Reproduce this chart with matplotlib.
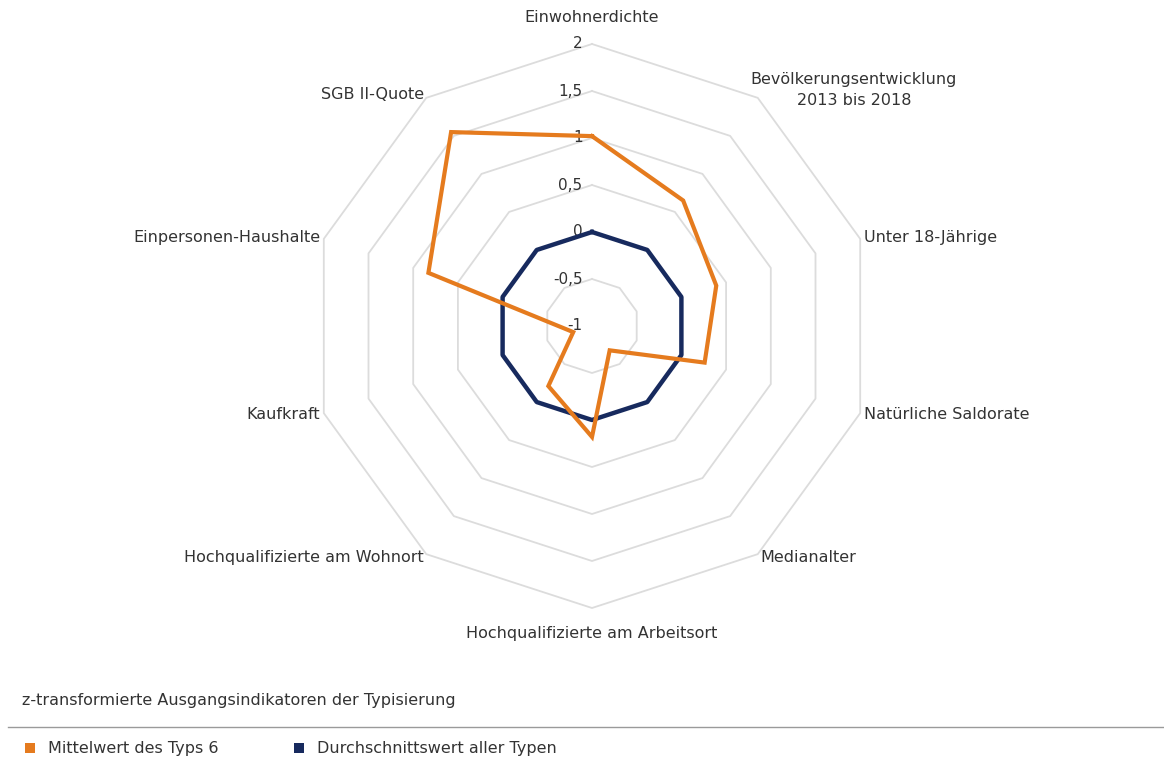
import numpy as np
import matplotlib
matplotlib.use("Agg")
import matplotlib.pyplot as plt

# Achsen im Uhrzeigersinn, beginnend oben
categories = ["Einwohnerdichte", "Bevölkerungsentwicklung\n2013 bis 2018", "Unter 18-Jährige",
              "Natürliche Saldorate", "Medianalter", "Hochqualifizierte am Arbeitsort",
              "Hochqualifizierte am Wohnort", "Kaufkraft", "Einpersonen-Haushalte", "SGB II-Quote"]
typ6 = [1.02, 0.65, 0.39, 0.26, -0.68, 0.18, -0.21, -0.79, 0.83, 1.55]
alle = [0, 0, 0, 0, 0, 0, 0, 0, 0, 0]
rings = [-0.5, 0, 0.5, 1, 1.5, 2]
ring_labels = ["-0,5", "0", "0,5", "1", "1,5", "2"]
r_min = -1

orange = "#E57B1E"
navy = "#172A5E"
grid_col = "#DCDCDC"
txt_col = "#333333"
fs = 11.5

plt.rcParams["font.family"] = ["DejaVu Sans"]

W, H = 1164, 760
cx, cy, scale = 592, 326, 94  # Mittelpunkt und Pixel pro Einheit

fig = plt.figure(figsize=(W / 100, H / 100), dpi=100)
ax = fig.add_axes([0, 0, 1, 1])
ax.set_xlim(-cx / scale, (W - cx) / scale)
ax.set_ylim(-(H - cy) / scale, cy / scale)
ax.axis("off")

n = len(categories)
ang = np.arange(n) * 2 * np.pi / n


def xy(vals):
    r = np.asarray(vals, dtype=float) - r_min
    x = r * np.sin(ang)
    y = r * np.cos(ang)
    return np.append(x, x[0]), np.append(y, y[0])


for v in rings:
    gx, gy = xy([v] * n)
    ax.plot(gx, gy, color=grid_col, lw=1.3, zorder=1)

for v, lab in zip(rings, ring_labels):
    ax.text(-0.1, v - r_min, lab, ha="right", va="center", fontsize=fs - 0.5, color=txt_col, zorder=2)
ax.text(-0.1, 0, "-1", ha="right", va="center", fontsize=fs - 0.5, color=txt_col, zorder=2)

x1, y1 = xy(alle)
ax.plot(x1, y1, color=navy, lw=3.2, zorder=3, solid_joinstyle="round")
x2, y2 = xy(typ6)
ax.plot(x2, y2, color=orange, lw=3, zorder=4, solid_joinstyle="miter")

# Achsenbeschriftungen
lab_r = 2 - r_min + 0.04
for i, (a, lab) in enumerate(zip(ang, categories)):
    lx, ly = lab_r * np.sin(a), lab_r * np.cos(a)
    s = np.sin(a)
    if abs(s) < 0.01:
        ha = "center"
    elif s > 0:
        ha = "left"
    else:
        ha = "right"
    va = "center"
    if i == 0:
        ly += 0.24
    elif i == 5:
        ly -= 0.23
    if i == 1:
        ha = "center"
        lx += 1.0
        ly += 0.05
    ax.text(lx, ly, lab, ha=ha, va=va, fontsize=fs, color=txt_col, linespacing=1.45)

# Fußzeile
fig.text(22 / W, 1 - 700 / H, "z-transformierte Ausgangsindikatoren der Typisierung",
         ha="left", va="center", fontsize=fs, color=txt_col)
fig.add_artist(plt.Line2D([8 / W, 1], [1 - 727 / H, 1 - 727 / H], transform=fig.transFigure,
                          color="#9A9A9A", lw=1))
legend_items = [("Mittelwert des Typs 6", orange, 25), ("Durchschnittswert aller Typen", navy, 294)]
for lab, col, px in legend_items:
    fig.patches.append(plt.Rectangle((px / W, 1 - 753 / H), 10 / W, 10 / H, transform=fig.transFigure,
                                     facecolor=col, edgecolor="none"))
    fig.text((px + 23) / W, 1 - 748 / H, lab, ha="left", va="center", fontsize=fs, color=txt_col)

fig.savefig("out.png", dpi=100)
